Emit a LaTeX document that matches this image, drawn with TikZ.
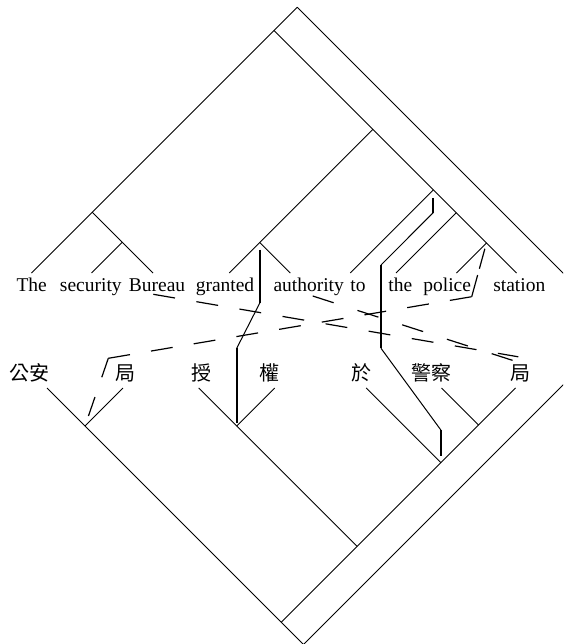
\documentclass[tikz,border=0pt]{standalone}
\usepackage{fontspec}
\setmainfont{Liberation Serif}
\newfontfamily\cjkfont{Noto Sans CJK TC}
\begin{document}
\begin{tikzpicture}[x=1pt,y=-1pt,
  branch/.style={line width=0.9pt},
  en/.style={font=\fontsize{19.5}{22}\selectfont, anchor=base, inner sep=0pt},
  zh/.style={font=\cjkfont\fontsize{20}{24}\selectfont, anchor=base, inner sep=0pt},
  linkstub/.style={line width=1.9pt},
  linkdiag/.style={line width=1pt},
  wrong/.style={line width=1.2pt, dash pattern=on 22pt off 21.5pt},
]
\useasboundingbox (0,0) rectangle (563,644);
\clip (0,0) rectangle (563,644);

% ---------- English tree (root on top) ----------
\coordinate (A)   at (297.25,7.15);
\coordinate (B)   at (273.95,30.45);
\coordinate (NP1) at (92.2,212.2);
\coordinate (N2)  at (122.25,242.25);
\coordinate (C)   at (372.9,129.4);
\coordinate (VP)  at (259.8,242.5);
\coordinate (D)   at (433.4,189.9);
\coordinate (E)   at (456.25,212.75);
\coordinate (F)   at (486.45,242.95);
\coordinate (X)   at (619.05,328.95);

\coordinate (tThe)       at (31.4,273);
\coordinate (tSecurity)  at (91.5,273);
\coordinate (tBureau)    at (153,273);
\coordinate (tGranted)   at (229.3,273);
\coordinate (tAuthority) at (290.3,273);
\coordinate (tTo)        at (350.3,273);
\coordinate (tThe2)      at (396,273);
\coordinate (tPolice)    at (456.4,273);
\coordinate (tStation)   at (516.5,273);

\draw[branch] (A) -- (X);
\draw[branch] (A) -- (tThe);
\draw[branch] (B) -- (tStation);
\draw[branch] (NP1) -- (tBureau);
\draw[branch] (N2) -- (tSecurity);
\draw[branch] (C) -- (tGranted);
\draw[branch] (VP) -- (tAuthority);
\draw[branch] (D) -- (tTo);
\draw[branch] (E) -- (tThe2);
\draw[branch] (F) -- (tPolice);

\node[en] (wThe)       at (31.7,291)  {The};
\node[en] (wSecurity)  at (90.8,291)  {security};
\node[en] (wBureau)    at (157,291)   {Bureau};
\node[en] (wGranted)   at (225,291)   {granted};
\node[en] (wAuthority) at (308.7,291) {authority};
\node[en] (wTo)        at (358,291)   {to};
\node[en] (wThe2)      at (400.3,291) {the};
\node[en] (wPolice)    at (447.2,291) {police};
\node[en] (wStation)   at (519.3,291) {station};

% ---------- Chinese tree (root at the bottom) ----------
\coordinate (R)  at (303.5,644.5);
\coordinate (H1) at (281.25,622.25);
\coordinate (G1) at (85,426);
\coordinate (H2) at (357.1,546.4);
\coordinate (G2) at (236.7,426);
\coordinate (H3) at (440.85,462.65);
\coordinate (H4) at (478.5,425);

\coordinate (bGongan)   at (47,388);
\coordinate (bJu1)      at (123,388);
\coordinate (bShou)     at (198.7,388);
\coordinate (bQuan)     at (274.7,388);
\coordinate (bYu)       at (366.2,388);
\coordinate (bJingcha)  at (441.5,388);
\coordinate (bJu2)      at (515.5,388);

\draw[branch] (R) -- (X);
\draw[branch] (R) -- (bGongan);
\draw[branch] (H1) -- (bJu2);
\draw[branch] (G1) -- (bJu1);
\draw[branch] (H2) -- (bShou);
\draw[branch] (G2) -- (bQuan);
\draw[branch] (H3) -- (bYu);
\draw[branch] (H4) -- (bJingcha);

\node[zh] (zGongan)  at (29.2,380.5)  {公安};
\node[zh] (zJu1)     at (125,380.5)   {局};
\node[zh] (zShou)    at (201,380.5)   {授};
\node[zh] (zQuan)    at (269.7,380.5) {權};
\node[zh] (zYu)      at (361,380.5)   {於};
\node[zh] (zJingcha) at (431,380.5)   {警察};
\node[zh] (zJu2)     at (520,380.5)   {局};

% ---------- solid links between tree nodes ----------
\coordinate (k1a) at (433.4,212.5);
\coordinate (k1b) at (381,265);
\coordinate (k1c) at (381,348.3);
\coordinate (k1d) at (440.85,430);
\draw[linkstub, shorten <=8pt] (D) -- (k1a);
\draw[linkdiag] (k1a) -- (k1b);
\draw[linkstub] (k1b) -- (k1c);
\draw[linkdiag] (k1c) -- (k1d);
\draw[linkstub, shorten >=7pt] (k1d) -- (H3);

\coordinate (k2a) at (259.8,303);
\coordinate (k2b) at (236.7,348.3);
\draw[linkstub, shorten <=7pt] (VP) -- (k2a);
\draw[linkdiag] (k2a) -- (k2b);
\draw[linkstub, shorten >=3pt] (k2b) -- (G2);

% ---------- dashed links ----------
\coordinate (c1) at (108.3,358.3);
\coordinate (c2) at (471.7,296.7);
\draw[wrong, dash pattern=on 20pt off 21pt, shorten >=2.5pt] (c1) -- (G1);
\draw[wrong, dash pattern=on 22pt off 21.3pt] (c1) -- (c2);
\draw[wrong, dash pattern=on 22.5pt off 6.5pt, shorten >=6pt] (c2) -- (F);

\coordinate (l1a) at (153.3,294.3);
\coordinate (l1b) at (518.3,356.8);
\draw[wrong, dash pattern=on 22pt off 21.7pt] (l1a) -- (l1b);

\coordinate (l3a) at (312.7,296);
\coordinate (l3b) at (516.7,361.7);
\draw[wrong, dash pattern=on 22pt off 25pt] (l3a) -- (l3b);
\end{tikzpicture}
\end{document}
